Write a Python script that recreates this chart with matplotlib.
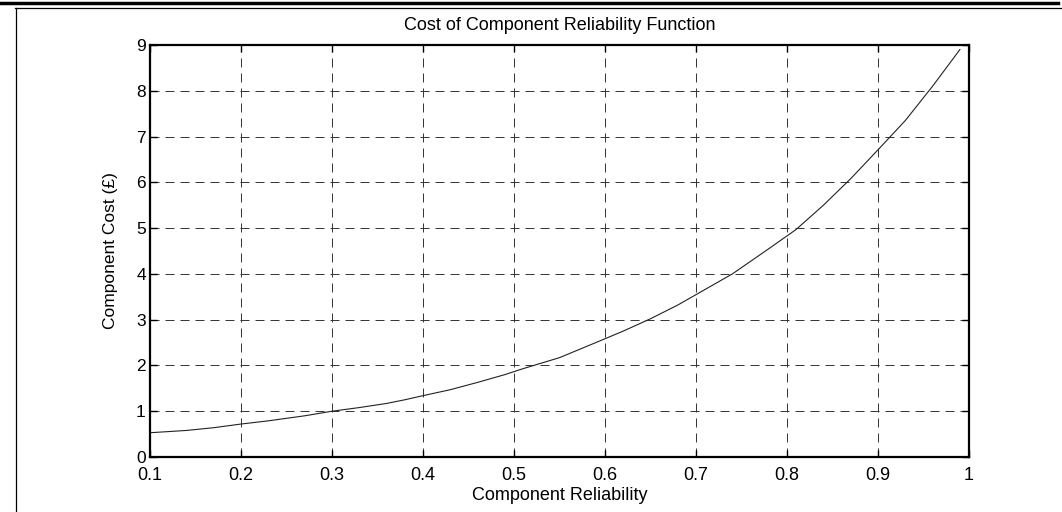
import matplotlib
matplotlib.use("Agg")
import matplotlib.pyplot as plt
from matplotlib.lines import Line2D

plt.rcParams['font.family'] = ['Liberation Sans', 'DejaVu Sans']
plt.rcParams['lines.scale_dashes'] = False

# values
reliability = [0.10, 0.14, 0.17, 0.20, 0.23, 0.27, 0.30, 0.33, 0.36, 0.38,
               0.40, 0.43, 0.46, 0.49, 0.51, 0.55, 0.59, 0.62, 0.65, 0.68,
               0.71, 0.74, 0.78, 0.81, 0.84, 0.87, 0.90, 0.93, 0.96, 0.99]
cost = [0.53, 0.58, 0.64, 0.72, 0.79, 0.90, 1.00, 1.08, 1.17, 1.25,
        1.34, 1.47, 1.63, 1.80, 1.93, 2.17, 2.50, 2.75, 3.02, 3.32,
        3.66, 4.00, 4.55, 4.97, 5.50, 6.08, 6.71, 7.35, 8.10, 8.90]

x_ticks = [0.1, 0.2, 0.3, 0.4, 0.5, 0.6, 0.7, 0.8, 0.9, 1]
x_labels = ['0.1', '0.2', '0.3', '0.4', '0.5', '0.6', '0.7', '0.8', '0.9', '1']
y_ticks = list(range(0, 10))

fig = plt.figure(figsize=(10.62, 5.12), dpi=100)
ax = fig.add_axes([150 / 1062, 1 - 457 / 512, 819 / 1062, 412 / 512])

ax.plot(reliability, cost, color='#222222', linewidth=0.8)

ax.set_xlim(0.1, 1)
ax.set_ylim(0, 9)
ax.set_xticks(x_ticks)
ax.set_xticklabels(x_labels)
ax.set_yticks(y_ticks)

ax.grid(True, color='#333333', linestyle=(0, (6.5, 4.3)), linewidth=0.7)
ax.tick_params(direction='in', length=5, width=1, top=True, right=True)
ax.tick_params(axis='x', pad=7, labelsize=13)
ax.tick_params(axis='y', pad=3, labelsize=12.5)
for sp in ax.spines.values():
    sp.set_linewidth(1.6)

ax.set_title("Cost of Component Reliability Function", fontsize=13, pad=11)
ax.set_xlabel("Component Reliability", fontsize=13, labelpad=2)
ax.set_ylabel("Component Cost (£)", fontsize=12.5, labelpad=13)

# document frame around the figure
fig.add_artist(Line2D([0, 1058 / 1062], [1 - 2.5 / 512] * 2, color='black', linewidth=2.5))
fig.add_artist(Line2D([15 / 1062, 1061 / 1062], [1 - 8 / 512] * 2, color='black', linewidth=0.9))
fig.add_artist(Line2D([15.5 / 1062] * 2, [0, 1 - 8 / 512], color='black', linewidth=0.9))

fig.savefig("out.png", dpi=100)
